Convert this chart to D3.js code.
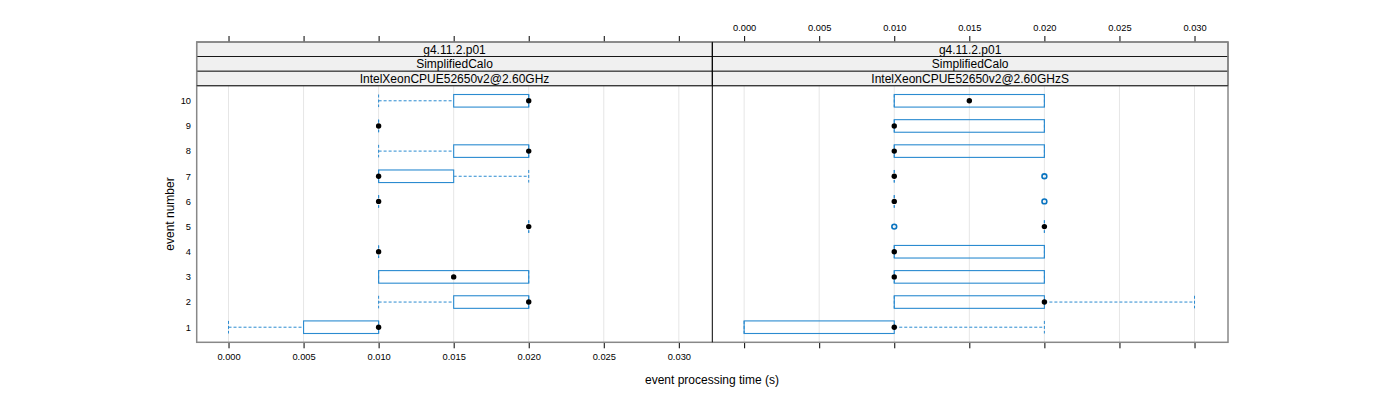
<!DOCTYPE html>
<html><head><meta charset="utf-8">
<script src="https://cdn.jsdelivr.net/npm/d3@7"></script>
<style>body{margin:0;background:#fff}svg{display:block;font-family:"Liberation Sans",Arial,sans-serif}</style>
</head><body><svg id="c" width="1400" height="400"></svg>
<script>
const events = [1,2,3,4,5,6,7,8,9,10];
const xTicks = [0.000,0.005,0.010,0.015,0.020,0.025,0.030];
const stripLabels1 = ["g4.11.2.p01","SimplifiedCalo","IntelXeonCPUE52650v2@2.60GHz"];
const stripLabels2 = ["g4.11.2.p01","SimplifiedCalo","IntelXeonCPUE52650v2@2.60GHzS"];
// left panel boxplot stats
const lLo  = [0.000,0.010,0.010,0.010,0.020,0.010,0.010,0.010,0.010,0.010];
const lQ1  = [0.005,0.015,0.010,0.010,0.020,0.010,0.010,0.015,0.010,0.015];
const lMed = [0.010,0.020,0.015,0.010,0.020,0.010,0.010,0.020,0.010,0.020];
const lQ3  = [0.010,0.020,0.020,0.010,0.020,0.010,0.015,0.020,0.010,0.020];
const lHi  = [0.010,0.020,0.020,0.010,0.020,0.010,0.020,0.020,0.010,0.020];
const lOut = [[],[],[],[],[],[],[],[],[],[]];
// right panel boxplot stats
const rLo  = [0.000,0.010,0.010,0.010,0.020,0.010,0.010,0.010,0.010,0.010];
const rQ1  = [0.000,0.010,0.010,0.010,0.020,0.010,0.010,0.010,0.010,0.010];
const rMed = [0.010,0.020,0.010,0.010,0.020,0.010,0.010,0.010,0.010,0.015];
const rQ3  = [0.010,0.020,0.020,0.020,0.020,0.010,0.010,0.020,0.020,0.020];
const rHi  = [0.020,0.030,0.020,0.020,0.020,0.010,0.010,0.020,0.020,0.020];
const rOut = [[],[],[],[],[0.010],[0.020],[0.020],[],[],[]];

const svg = d3.select("#c");
const frameTop = 42, stripH = 14.6, panTop = 85.7, panBot = 342.3;
const L0 = 196.7, M = 712.3, R1 = 1228;
const dom = [-0.00212, 0.03223];
const y = d3.scaleLinear().domain([0.4,10.6]).range([panBot, panTop]);
const boxH = (y(0) - y(0.5));
const boxCol = "#2b8bd0", outCol = "#0a74c0";

const panels = [
  {x: d3.scaleLinear().domain(dom).range([L0, M]), lo:lLo,q1:lQ1,med:lMed,q3:lQ3,hi:lHi,out:lOut, strips:stripLabels1, x0:L0, x1:M, topLabels:false, botLabels:true},
  {x: d3.scaleLinear().domain(dom).range([M, R1]), lo:rLo,q1:rQ1,med:rMed,q3:rQ3,hi:rHi,out:rOut, strips:stripLabels2, x0:M, x1:R1, topLabels:true, botLabels:false}
];

panels.forEach(p => {
  const g = svg.append("g");
  g.selectAll(".grid").data(xTicks).join("line")
    .attr("x1", d => p.x(d)).attr("x2", d => p.x(d))
    .attr("y1", panTop).attr("y2", panBot)
    .attr("stroke", "#e6e6e6").attr("stroke-width", 1);
  p.strips.forEach((s, i) => {
    const sy = frameTop + i*stripH;
    g.append("rect").attr("x", p.x0).attr("y", sy).attr("width", p.x1-p.x0).attr("height", stripH)
      .attr("fill", "#f0f0f0").attr("stroke", "#000").attr("stroke-width", 0.8);
    g.append("text").attr("x", (p.x0+p.x1)/2).attr("y", sy + stripH/2 + 4.2)
      .attr("text-anchor","middle").attr("font-size", 12).attr("fill","#000").text(s);
  });
  const ticksTop = d3.axisTop(p.x).tickValues(xTicks).tickSize(6).tickFormat(p.topLabels ? d3.format(".3f") : () => "");
  const ax = g.append("g").attr("transform", `translate(0,${frameTop})`).call(ticksTop);
  ax.select(".domain").remove();
  ax.selectAll("line").attr("stroke","#000");
  ax.selectAll("text").attr("font-size", 9.3).attr("font-family","Liberation Sans, Arial, sans-serif").attr("fill","#000").attr("y", -11).attr("dy","0");
  const ticksBot = d3.axisBottom(p.x).tickValues(xTicks).tickSize(6).tickFormat(p.botLabels ? d3.format(".3f") : () => "");
  const bx = g.append("g").attr("transform", `translate(0,${panBot})`).call(ticksBot);
  bx.select(".domain").remove();
  bx.selectAll("line").attr("stroke","#000");
  bx.selectAll("text").attr("font-size", 9.3).attr("font-family","Liberation Sans, Arial, sans-serif").attr("fill","#000").attr("y", 11).attr("dy","0.71em");

  const rows = events.map((e,i) => ({e, lo:p.lo[i], q1:p.q1[i], med:p.med[i], q3:p.q3[i], hi:p.hi[i], out:p.out[i]}));
  rows.forEach(r => {
    const cy = y(r.e);
    const dash = "3,2";
    const seg = (x1,x2,y1,y2) => g.append("line").attr("x1",x1).attr("x2",x2).attr("y1",y1).attr("y2",y2)
      .attr("stroke", boxCol).attr("stroke-width",1).attr("stroke-dasharray",dash);
    if (r.lo < r.q1) seg(p.x(r.lo), p.x(r.q1), cy, cy);
    if (r.hi > r.q3) seg(p.x(r.q3), p.x(r.hi), cy, cy);
    seg(p.x(r.lo), p.x(r.lo), cy-boxH/2, cy+boxH/2);
    seg(p.x(r.hi), p.x(r.hi), cy-boxH/2, cy+boxH/2);
  });
  g.selectAll(".box").data(rows).join("rect")
    .attr("x", d => p.x(d.q1)).attr("width", d => p.x(d.q3)-p.x(d.q1))
    .attr("y", d => y(d.e)-boxH/2).attr("height", boxH)
    .attr("fill","none").attr("stroke", boxCol).attr("stroke-width",1.1);
  rows.forEach(r => r.out.forEach(o => {
    g.append("circle").attr("cx", p.x(o)).attr("cy", y(r.e)).attr("r", 2.4)
      .attr("fill","none").attr("stroke", outCol).attr("stroke-width", 1.6);
  }));
  g.selectAll(".med").data(rows).join("circle")
    .attr("cx", d => p.x(d.med)).attr("cy", d => y(d.e)).attr("r", 2.7).attr("fill","#000");
});

svg.append("rect").attr("x", L0).attr("y", frameTop).attr("width", R1-L0).attr("height", panBot-frameTop)
  .attr("fill","none").attr("stroke","#888").attr("stroke-width",1.5);
svg.append("line").attr("x1", L0).attr("x2", R1).attr("y1", panTop).attr("y2", panTop).attr("stroke","#333").attr("stroke-width",1);
svg.append("line").attr("x1", M).attr("x2", M).attr("y1", frameTop).attr("y2", panBot).attr("stroke","#000").attr("stroke-width",1);

svg.selectAll(".ylab").data(events).join("text")
  .attr("x", 191).attr("y", d => y(d)+3.3).attr("text-anchor","end").attr("font-size",9.3).attr("fill","#000").text(d => d);

svg.append("text").attr("x", 712).attr("y", 384).attr("text-anchor","middle").attr("font-size",12).attr("fill","#000").text("event processing time (s)");
svg.append("text").attr("transform", `translate(174,${(panTop+panBot)/2}) rotate(-90)`).attr("text-anchor","middle").attr("font-size",12).attr("fill","#000").text("event number");
</script></body></html>
